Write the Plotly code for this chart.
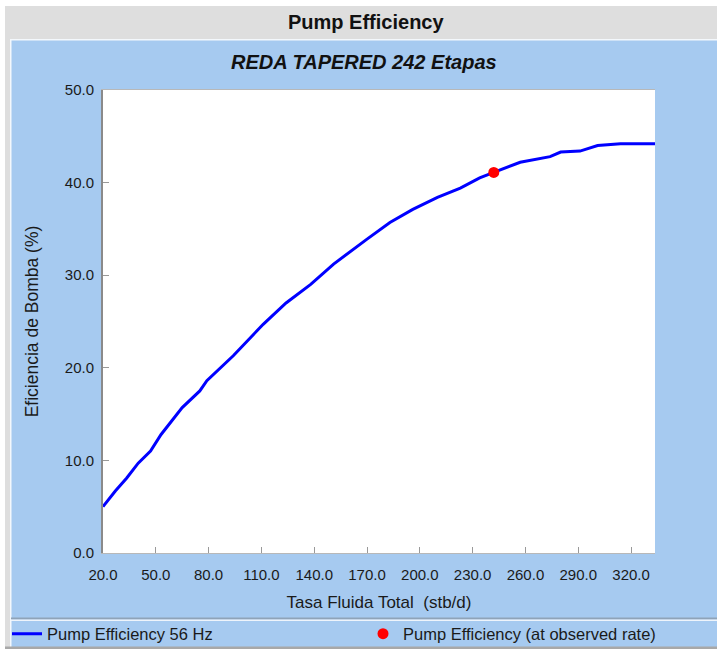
import plotly.graph_objects as go

# ---- data ----
rate = [20, 27, 33.5, 40, 47, 53, 65, 75, 79, 94, 111, 124, 138, 151, 170, 183,
        196, 210, 223, 234, 242, 257, 274, 280, 291, 301, 314, 334]
eff = [5.0, 6.7, 8.1, 9.7, 11.0, 12.8, 15.7, 17.5, 18.6, 21.3, 24.7, 27.0, 29.0,
       31.2, 33.9, 35.7, 37.1, 38.4, 39.4, 40.5, 41.1, 42.2, 42.8, 43.3, 43.4,
       44.0, 44.2, 44.2]
obs_rate = [242]
obs_eff = [41.1]
x_ticks = [20, 50, 80, 110, 140, 170, 200, 230, 260, 290, 320]
y_ticks = [0, 10, 20, 30, 40, 50]

W, H = 717, 651
L, R, T, B = 103, 655, 90, 553  # plot area in pixels


def px(x):
    return (x - L) / (R - L)


def py(y):
    return (B - y) / (B - T)


BLUE = "#a6caf0"
GRAY = "#dedede"
FONT = "Liberation Sans, Arial, sans-serif"

fig = go.Figure()
fig.add_trace(go.Scatter(
    x=rate, y=eff, mode="lines", name="Pump Efficiency 56 Hz",
    line=dict(color="#0000ff", width=3), legend="legend",
))
fig.add_trace(go.Scatter(
    x=obs_rate, y=obs_eff, mode="markers",
    name="Pump Efficiency (at observed rate)",
    marker=dict(color="#ff0000", size=11, symbol="circle"), legend="legend2",
))


def rect(x0, y0, x1, y1, color):
    return dict(type="rect", xref="paper", yref="paper",
                x0=px(x0), x1=px(x1), y0=py(y0), y1=py(y1),
                fillcolor=color, line=dict(width=0), layer="below")


shapes = [
    rect(0, 0, W, 6, "white"),
    rect(0, 0, 5, H, "white"),
    rect(0, 649, W, H, "white"),
    rect(5, 6, W, 39, GRAY),
    rect(5, 39, 10, 649, GRAY),
    rect(10, 39, W, 40.5, "#f4f8fc"),
    rect(10, 39, 11.5, 648, "#f4f8fc"),
    rect(5, 646.5, W, 649, "#a8a8a8"),
    rect(11, 617.5, W, 619.5, "#8fa3b8"),
    rect(11, 619.5, W, 621, "#eef4fb"),
]

legend_common = dict(
    orientation="h", xref="container", yref="container",
    xanchor="left", yanchor="middle", bgcolor="rgba(0,0,0,0)",
    font=dict(size=16.5, family=FONT, color="#1a1a1a"), itemwidth=30,
)

fig.update_layout(
    width=W, height=H,
    margin=dict(l=L, r=W - R, t=T, b=H - B),
    paper_bgcolor=BLUE,
    plot_bgcolor="white",
    shapes=shapes,
    font=dict(family=FONT, size=14, color="#1a1a1a"),
    showlegend=True,
    legend=dict(legend_common, x=7 / W, y=1 - 634 / H),
    legend2=dict(legend_common, x=363 / W, y=1 - 634 / H),
    annotations=[
        dict(text="<b>Pump Efficiency</b>", xref="paper", yref="paper",
             x=px(366), y=py(22), showarrow=False, xanchor="center", yanchor="middle",
             font=dict(size=20, family=FONT, color="#111")),
        dict(text="<b><i>REDA TAPERED 242 Etapas</i></b>", xref="paper", yref="paper",
             x=px(364), y=py(62), showarrow=False, xanchor="center", yanchor="middle",
             font=dict(size=20, family=FONT, color="#111")),
    ],
    xaxis=dict(
        range=[20, 333.6], tickvals=x_ticks, tickformat=".1f", automargin=False,
        ticks="inside", ticklen=6, tickcolor="#999", showgrid=False, zeroline=False,
        showline=True, linecolor="#b8b8b8", linewidth=1, mirror=True,
        tickfont=dict(size=15), ticklabelstandoff=8,
        title=dict(text="Tasa Fluida Total\u00a0\u00a0(stb/d)", font=dict(size=17), standoff=14),
    ),
    yaxis=dict(
        range=[0, 50], tickvals=y_ticks, tickformat=".1f", automargin=False,
        ticks="inside", ticklen=6, tickcolor="#999", showgrid=False, zeroline=False,
        showline=True, linecolor="#8a8a8a", linewidth=2,
        tickfont=dict(size=15), ticklabelstandoff=4,
        title=dict(text="Eficiencia de Bomba (%)", font=dict(size=17.5), standoff=22),
    ),
)

fig.write_html("out.html", post_script="document.body.style.margin='0';",
               config={"displayModeBar": False})
